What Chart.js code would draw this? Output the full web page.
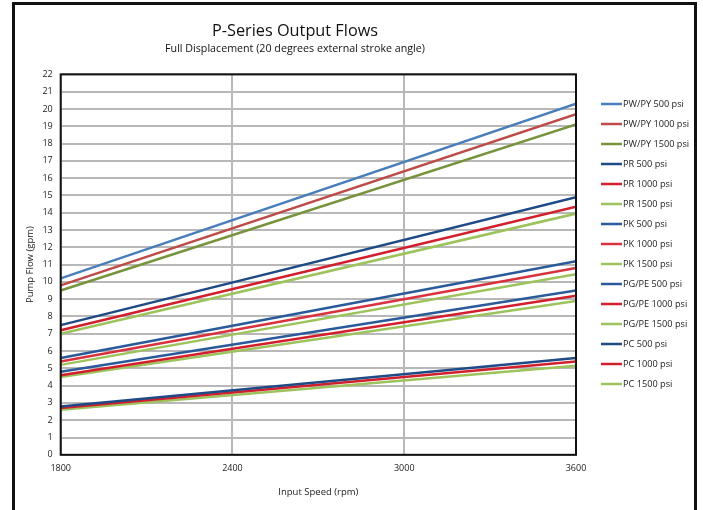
<!DOCTYPE html>
<html>
<head>
<meta charset="utf-8">
<script src="https://cdn.jsdelivr.net/npm/chart.js@4/dist/chart.umd.min.js"></script>
<style>
  html, body { margin: 0; padding: 0; background: #fff; }
  #wrap { width: 703px; height: 510px; }
</style>
</head>
<body>
<div id="wrap"><canvas id="c" width="703" height="510"></canvas></div>
<script>
// ---- data ----
const speeds = [1800, 3600];
const seriesNames = [
  'PW/PY 500 psi', 'PW/PY 1000 psi', 'PW/PY 1500 psi',
  'PR 500 psi', 'PR 1000 psi', 'PR 1500 psi',
  'PK 500 psi', 'PK 1000 psi', 'PK 1500 psi',
  'PG/PE 500 psi', 'PG/PE 1000 psi', 'PG/PE 1500 psi',
  'PC 500 psi', 'PC 1000 psi', 'PC 1500 psi'
];
const flowAt1800 = [10.2, 9.8, 9.5, 7.5, 7.2, 7.0, 5.6, 5.4, 5.2, 4.8, 4.6, 4.5, 2.8, 2.7, 2.6];
const flowAt3600 = [20.3, 19.7, 19.1, 14.9, 14.35, 13.95, 11.2, 10.8, 10.45, 9.5, 9.2, 8.9, 5.6, 5.4, 5.15];
const seriesColors = [
  '#4a7ebb', '#be4b48', '#77933c',
  '#1f4a85', '#d21f2d', '#9dc35c',
  '#2a5a9a', '#d8323f', '#9dc35c',
  '#2a5a9a', '#d21f2d', '#9dc35c',
  '#1f4a85', '#d21f2d', '#9dc35c'
];
const xTicks = [1800, 2400, 3000, 3600];
const yMin = 0, yMax = 22, yStep = 1;

const FONT = "'Open Sans', 'DejaVu Sans', sans-serif";

const datasets = seriesNames.map((name, i) => ({
  label: name,
  data: speeds.map((s, j) => ({ x: s, y: j === 0 ? flowAt1800[i] : flowAt3600[i] })),
  borderColor: seriesColors[i],
  backgroundColor: seriesColors[i],
  borderWidth: 2.5,
  pointRadius: 0,
  fill: false,
  tension: 0
}));

const framePlugin = {
  id: 'frame',
  afterDraw(chart) {
    const ctx = chart.ctx;
    const a = chart.chartArea;
    ctx.save();
    ctx.strokeStyle = '#111';
    ctx.lineWidth = 2;
    ctx.strokeRect(a.left, a.top, a.right - a.left, a.bottom - a.top);
    ctx.lineWidth = 3;
    ctx.beginPath();
    ctx.moveTo(13.5, 510);
    ctx.lineTo(13.5, 3.5);
    ctx.lineTo(695.5, 3.5);
    ctx.lineTo(695.5, 510);
    ctx.stroke();
    ctx.font = '9.2px ' + FONT;
    ctx.textBaseline = 'middle';
    ctx.textAlign = 'left';
    chart.data.datasets.forEach((ds, i) => {
      const y = 104 + i * 20;
      ctx.strokeStyle = ds.borderColor;
      ctx.lineWidth = 2.5;
      ctx.beginPath();
      ctx.moveTo(601, y);
      ctx.lineTo(622, y);
      ctx.stroke();
      ctx.fillStyle = '#222';
      ctx.fillText(ds.label, 623, y);
    });
    ctx.restore();
  }
};

new Chart(document.getElementById('c'), {
  type: 'line',
  data: { datasets },
  options: {
    responsive: false,
    animation: false,
    layout: { padding: { left: 14, right: 127, top: 0, bottom: 12 } },
    plugins: {
      legend: { display: false },
      tooltip: { enabled: false },
      title: {
        display: true,
        text: 'P-Series Output Flows',
        color: '#111',
        font: { family: FONT, size: 16.3, weight: 'normal' },
        padding: { top: 22, bottom: 1 }
      },
      subtitle: {
        display: true,
        text: 'Full Displacement (20 degrees external stroke angle)',
        color: '#111',
        font: { family: FONT, size: 10.7, weight: 'normal' },
        padding: { top: 0, bottom: 19 }
      }
    },
    scales: {
      x: {
        type: 'linear',
        min: xTicks[0],
        max: xTicks[xTicks.length - 1],
        afterBuildTicks(scale) { scale.ticks = xTicks.map(v => ({ value: v })); },
        grid: { color: '#b8b8b8', lineWidth: 2, drawTicks: false },
        border: { display: false },
        ticks: { color: '#222', font: { family: FONT, size: 9 }, padding: 8, maxRotation: 0, callback: v => String(v) },
        title: { display: true, text: 'Input Speed (rpm)', color: '#222', font: { family: FONT, size: 9.5 }, padding: { top: 5, bottom: 0 } }
      },
      y: {
        min: yMin,
        max: yMax,
        ticks: { stepSize: yStep, color: '#222', font: { family: FONT, size: 9 }, padding: 8 },
        grid: { color: '#b8b8b8', lineWidth: 2, drawTicks: false },
        border: { display: false },
        title: { display: true, text: 'Pump Flow (gpm)', color: '#222', font: { family: FONT, size: 9.5 }, padding: { top: 11, bottom: -2 } }
      }
    }
  },
  plugins: [framePlugin]
});
</script>
</body>
</html>
